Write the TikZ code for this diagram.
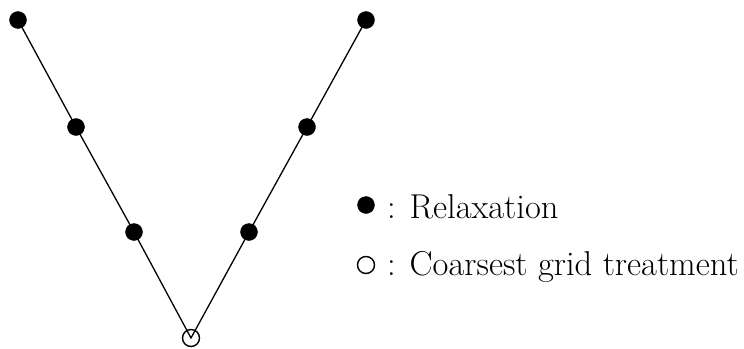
\documentclass[tikz,border=0pt]{standalone}
\usepackage{tikz}
\usetikzlibrary{positioning}

\begin{document}
\begin{tikzpicture}[
  x=1pt, y=-1pt,
  node distance=4pt and 6pt,
  relax/.style={circle, fill=black, draw=black, inner sep=0pt, minimum size=17pt},
  coarse/.style={circle, draw=black, line width=1.4pt, inner sep=0pt, minimum size=17pt},
  leg/.style={font=\fontsize{34.5}{41}\selectfont, inner sep=0pt, anchor=west},
  link/.style={line width=1.3pt}]
\useasboundingbox (0,0) rectangle (744,348);
% V-cycle
\node[relax] (d1) at (18,20) {};
\node[relax] (d2) at (76,127) {};
\node[relax] (d3) at (134,232) {};
\node[coarse] (c) at (191,338) {};
\node[relax] (u3) at (249,232) {};
\node[relax] (u2) at (307,127) {};
\node[relax] (u1) at (366,20) {};
\draw[link] (d1.center) -- (d2.center) -- (d3.center) -- (c.center)
  -- (u3.center) -- (u2.center) -- (u1.center);
% legend
\node[relax] (lr) at (366,205) {};
\node[coarse] (lc) at (366,265) {};
\node[leg] (tr) at (387,207) {: Relaxation};
\node[leg] (tc) at (387,267) {: Coarsest grid treatment};
\end{tikzpicture}
\end{document}
